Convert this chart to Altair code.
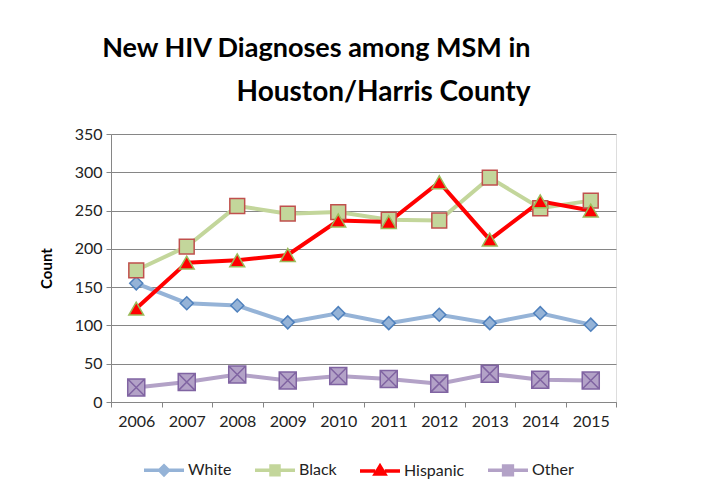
import altair as alt
import pandas as pd

years = ["2006", "2007", "2008", "2009", "2010", "2011", "2012", "2013", "2014", "2015"]
white = [155, 129, 126, 104, 116, 103, 114, 103, 116, 101]
black = [172, 203, 256, 246, 248, 238, 237, 293, 253, 263]
hispanic = [122, 182, 185, 192, 237, 235, 287, 212, 262, 250]
other = [19, 26, 36, 28, 34, 30, 24, 37, 29, 28]

series = ["White", "Black", "Hispanic", "Other"]
line_colors = ["#95b3d7", "#c3d69b", "#ff0000", "#b3a2c7"]
fill_colors = ["#95b3d7", "#c3d69b", "#ff0000", "#b3a2c7"]
stroke_colors = ["#4f81bd", "#c0504d", "#9bbb59", "#8064a2"]
marker_shapes = ["diamond", "square", "triangle-up", "M-1,-1H1V1H-1Z M-1,-1L1,1 M1,-1L-1,1"]
marker_sizes = [170, 220, 220, 290]

rows = []
for name, vals in zip(series, [white, black, hispanic, other]):
    for y, v in zip(years, vals):
        rows.append({"Year": y, "Series": name, "Count": v})
df = pd.DataFrame(rows)

FONT = "Lato"

x_enc = alt.X("Year:O", bandPosition=0.5,
              scale=alt.Scale(type="band", paddingInner=0, paddingOuter=0),
              axis=alt.Axis(title=None, labelAngle=0, tickBand="extent", labelFontSize=16,
                            labelColor="#222222", labelFont=FONT, domainColor="#868686",
                            tickColor="#868686", tickSize=5, labelPadding=6, grid=False))
y_enc = alt.Y("Count:Q", scale=alt.Scale(domain=[0, 350]),
              axis=alt.Axis(values=list(range(0, 351, 50)), title="Count", titleFont=FONT,
                            titleFontSize=15, titleFontWeight="bold", titleColor="#000000",
                            labelFontSize=16, labelColor="#222222", labelFont=FONT,
                            gridColor="#868686", domainColor="#868686", tickColor="#868686",
                            tickSize=5, labelPadding=4, titlePadding=20))

base = alt.Chart(df)

lines = base.mark_line(strokeWidth=4).encode(
    x=x_enc, y=y_enc,
    strokeWidth=alt.condition("datum.Series == 'Hispanic'", alt.value(3.5), alt.value(4)),
    color=alt.Color("Series:N", scale=alt.Scale(domain=series, range=line_colors)),
)

point_layers = []
for name, shp, fc, sc, sz in zip(series, marker_shapes, fill_colors, stroke_colors, marker_sizes):
    point_layers.append(
        base.transform_filter(alt.datum.Series == name)
        .mark_point(filled=True, shape=shp, size=sz, fill=fc, stroke=sc, strokeWidth=1.5, opacity=1)
        .encode(x=x_enc, y=y_enc)
    )

legend_shapes = [
    "M-1,0H-0.22 M-0.22,0L0,-0.22L0.22,0L0,0.22Z M0.22,0H1",
    "M-1,0H-0.2 M-0.2,-0.22H0.2V0.22H-0.2Z M0.2,0H1",
    "M-1,0H-0.24 M-0.24,0.16L0,-0.24L0.24,0.16Z M0.24,0H1",
    "M-1,0H-0.22 M-0.22,-0.22H0.22V0.22H-0.22Z M-0.22,-0.22L0.22,0.22 M0.22,-0.22L-0.22,0.22 M0.22,0H1",
]

leg = alt.Legend(title=None, orient="none", direction="horizontal",
                 legendX=31, legendY=314, symbolSize=1600,
                 symbolStrokeWidth=3.5, symbolOpacity=1, labelFontSize=16,
                 labelFont=FONT, labelColor="#222222", columnPadding=16, labelOffset=2)

legend_layer = base.mark_point(filled=False, size=1, opacity=0).encode(
    x=x_enc, y=y_enc,
    color=alt.Color("Series:N", scale=alt.Scale(domain=series, range=line_colors), legend=leg),
    fill=alt.Fill("Series:N", scale=alt.Scale(domain=series, range=fill_colors), legend=leg),
    shape=alt.Shape("Series:N", scale=alt.Scale(domain=series, range=legend_shapes), legend=leg),
)

chart = alt.layer(lines, *point_layers, legend_layer).properties(
    width=505, height=268,
    autosize=alt.AutoSizeParams(type="none"),
    padding={"left": 103, "top": 126, "right": 78, "bottom": 83},
    title=alt.TitleParams("New HIV Diagnoses among MSM in",
                          subtitle="Houston/Harris County",
                          font=FONT, fontSize=27, fontWeight="bold", color="#000000",
                          subtitleFont=FONT, subtitleFontSize=28, subtitleFontWeight="bold",
                          subtitleColor="#000000", subtitlePadding=16,
                          anchor="end", align="right", dx=-86, offset=18),
).configure_view(stroke=None).configure(background="#ffffff")

chart.save("out.html", embed_options={"renderer": "svg", "actions": False})
